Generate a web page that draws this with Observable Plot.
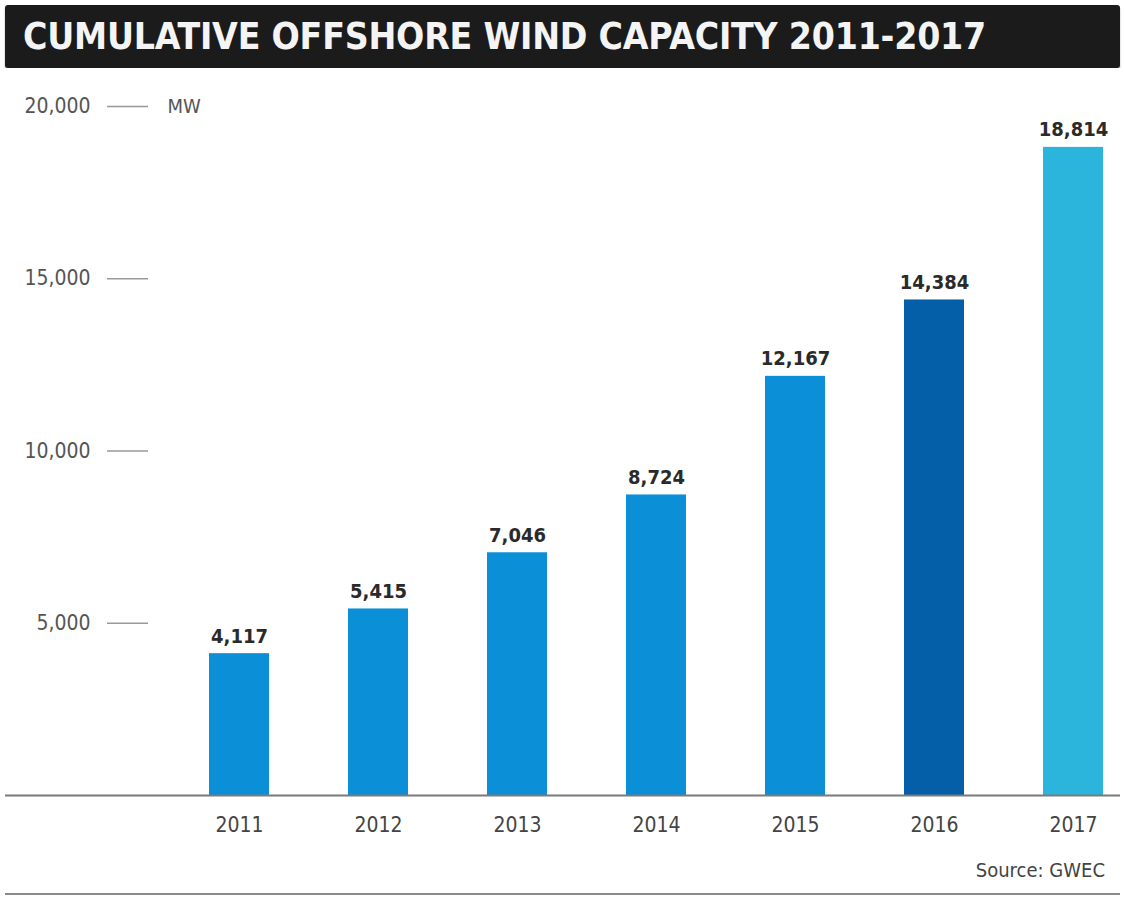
<!DOCTYPE html>
<html>
<head>
<meta charset="utf-8">
<script src="https://cdn.jsdelivr.net/npm/d3@7"></script>
<script src="https://cdn.jsdelivr.net/npm/@observablehq/plot@0.6"></script>
<style>
  body { margin: 0; background: #fff; width: 1124px; height: 898px; overflow: hidden; }
  #title {
    margin: 5px 4px 0 5px; height: 63px; background: #1b1b1b; border-radius: 3px;
    color: #f4f4f4; font-family: "Liberation Sans Narrow", "DejaVu Sans Condensed", sans-serif;
    font-weight: bold; font-size: 37px; line-height: 63px; padding-left: 18px; white-space: nowrap;
    box-shadow: 0 2px 2px rgba(0,0,0,0.35);
  }
  #chart { display: block; }
  #source {
    position: relative; height: 35px; margin: 0 4px 0 5px;
    font-family: "Liberation Sans Narrow", "DejaVu Sans Condensed", sans-serif; font-size: 20px; color: #444;
    text-align: right; padding-right: 15px; line-height: 24px;
    border-bottom: 2px solid #8a8a8a;
  }
</style>
</head>
<body>
<div id="title">CUMULATIVE OFFSHORE WIND CAPACITY 2011-2017</div>
<div id="chart"></div>
<div id="source">Source: GWEC</div>
<script>
const years = ["2011", "2012", "2013", "2014", "2015", "2016", "2017"];
const capacity = [4117, 5415, 7046, 8724, 12167, 14384, 18814];
const yTicks = [5000, 10000, 15000, 20000];
const unitLabel = "MW";
const barColors = ["#0b8fd6", "#0b8fd6", "#0b8fd6", "#0b8fd6", "#0b8fd6", "#045ea8", "#2cb5dc"];

const data = years.map((y, i) => ({year: y, value: capacity[i]}));
const fmt = d3.format(",");
const font = '"Liberation Sans Narrow", "DejaVu Sans Condensed", sans-serif';

const chart = Plot.plot({
  width: 1124,
  height: 790,
  marginTop: 38,
  marginBottom: 63,
  marginLeft: 148,
  marginRight: 4,
  style: {fontFamily: font, fontSize: "19px", color: "#555", background: "#fff"},
  x: {domain: years, paddingInner: 0.569, paddingOuter: 0.2727, align: 0.776, label: null},
  y: {domain: [0, 20000], label: null},
  color: {domain: years, range: barColors},
  marks: [
    Plot.barY(data, {x: "year", y: "value", fill: "year"}),
    Plot.ruleY([0], {stroke: "#7a7a7a", strokeWidth: 2, insetLeft: -143}),
    Plot.axisY({ticks: yTicks, tickFormat: fmt, tickSize: 41, tickPadding: 17, stroke: "#999", strokeWidth: 1.5, fill: "#555", fontSize: 21, label: null}),
    Plot.axisX({tickSize: 0, tickPadding: 22, fill: "#444", fontSize: 21, label: null}),
    Plot.text([unitLabel], {frameAnchor: "top-left", lineAnchor: "middle", dx: 19, text: d => d, fill: "#555", fontSize: 20, textAnchor: "start"}),
    Plot.text(data, {x: "year", y: "value", text: d => fmt(d.value), lineAnchor: "bottom", dy: -11, fill: "#2a2a2a", fontSize: 20, fontWeight: "bold"})
  ]
});
document.getElementById("chart").appendChild(chart);

// fit the title text to its printed width
const t = document.getElementById("title");
const span = document.createElement("span");
span.textContent = t.textContent; t.textContent = ""; t.appendChild(span);
const w = span.getBoundingClientRect().width;
const target = 963;
const n = span.textContent.length;
span.style.letterSpacing = ((target - w) / n) + "px";
</script>
</body>
</html>
